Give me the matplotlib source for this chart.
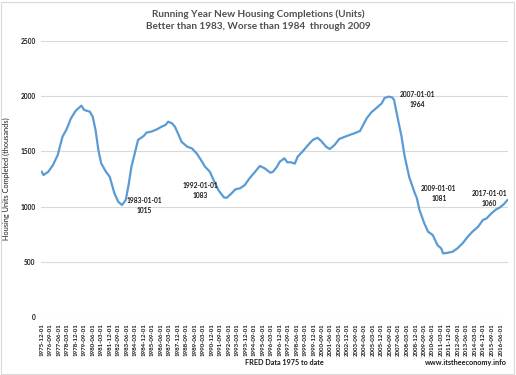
import pandas as pd
import matplotlib
matplotlib.use('Agg')
import matplotlib.pyplot as plt
from matplotlib.patches import Rectangle

plt.rcParams['font.family'] = ['Lato', 'DejaVu Sans']

# running-year completions (thousands)
months = ['1975-12', '1976-02', '1976-07', '1976-12', '1977-05', '1977-10', '1978-02', '1978-07',
          '1978-12', '1979-06', '1979-09', '1980-03', '1980-06', '1980-09', '1980-12', '1981-03',
          '1981-08', '1981-12', '1982-05', '1982-09', '1983-01', '1983-05', '1983-08', '1983-11',
          '1984-03', '1984-06', '1984-12', '1985-03', '1985-08', '1986-02', '1986-07', '1986-11',
          '1987-02', '1987-06', '1987-09', '1988-01', '1988-04', '1988-10', '1989-03', '1989-08',
          '1989-12', '1990-05', '1990-10', '1991-02', '1991-07', '1992-01', '1992-04', '1992-09',
          '1993-01', '1993-06', '1993-11', '1994-04', '1994-10', '1995-03', '1995-08', '1996-02',
          '1996-05', '1996-09', '1996-12', '1997-05', '1997-08', '1997-12', '1998-04', '1998-07',
          '1998-12', '1999-06', '1999-11', '2000-04', '2000-08', '2001-01', '2001-05', '2001-10',
          '2002-03', '2002-09', '2003-02', '2003-07', '2004-01', '2004-08', '2005-01', '2005-06',
          '2005-12', '2006-03', '2006-07', '2006-11', '2007-01', '2007-05', '2007-09', '2007-12',
          '2008-05', '2008-11', '2009-01', '2009-04', '2009-09', '2010-01', '2010-06', '2010-11',
          '2011-03', '2011-05', '2011-10', '2012-03', '2012-08', '2013-02', '2013-07', '2013-12',
          '2014-06', '2014-11', '2015-03', '2015-08', '2016-01', '2016-05', '2016-09', '2017-01']
units = [1316, 1286, 1316, 1377, 1467, 1632, 1693, 1798,
         1867, 1913, 1874, 1858, 1813, 1693, 1512, 1392,
         1316, 1271, 1121, 1045, 1015, 1060, 1196, 1361,
         1497, 1603, 1639, 1669, 1678, 1699, 1723, 1738,
         1768, 1753, 1723, 1648, 1587, 1542, 1527, 1482,
         1430, 1361, 1316, 1241, 1151, 1083, 1081, 1121,
         1157, 1166, 1196, 1256, 1316, 1368, 1347, 1307,
         1316, 1361, 1406, 1437, 1401, 1401, 1389, 1452,
         1497, 1557, 1603, 1623, 1593, 1542, 1521, 1557,
         1612, 1632, 1648, 1663, 1684, 1798, 1853, 1889,
         1934, 1982, 1994, 1988, 1964, 1798, 1632, 1467,
         1271, 1121, 1081, 970, 850, 774, 744, 653,
         623, 578, 584, 593, 623, 674, 728, 774,
         819, 879, 894, 939, 975, 993, 1021, 1060]

# labelled points
label_dates = ['1983-01-01', '1992-01-01', '2007-01-01', '2009-01-01', '2017-01-01']
label_values = [1015, 1083, 1964, 1081, 1060]
label_offsets = [(16, 0), (-17, 5), (17, 0), (16, 3), (-13, 1)]

dates = pd.to_datetime(months)
ticks = pd.date_range('1975-12-01', '2016-06-01', freq='9MS')

fig = plt.figure(figsize=(5.16, 3.75), dpi=100)
fig.patches.append(Rectangle((0.002, 0.004), 0.994, 0.99, transform=fig.transFigure,
                             fill=False, edgecolor='#D9D9D9', linewidth=0.8))
ax = fig.add_axes([0.0795, 0.1536, 0.905, 0.738])

ax.plot(dates, units, color='#5B9BD5', linewidth=1.6)

for d, v, off in zip(label_dates, label_values, label_offsets):
    ax.annotate(f'{d}\n{v}', xy=(pd.Timestamp(d), v), xytext=off, textcoords='offset points',
                ha='center', va='center', fontsize=4.8, fontweight='bold',
                linespacing=1.5, color='#1a1a1a')

ax.set_ylim(0, 2500)
ax.set_yticks(range(0, 2501, 500))
ax.set_xlim(pd.Timestamp('1975-11-10'), pd.Timestamp('2017-01-20'))
ax.set_xticks(ticks)
ax.set_xticklabels([t.strftime('%Y-%m-%d') for t in ticks], rotation=90,
                   fontsize=4.4, fontweight='bold')
for lbl in ax.get_yticklabels():
    lbl.set_fontsize(4.8)
    lbl.set_fontweight('bold')
ax.tick_params(length=0, pad=4, colors='#1a1a1a')
ax.grid(axis='y', color='#D9D9D9', linewidth=0.8)
ax.set_axisbelow(True)
for s in ax.spines.values():
    s.set_visible(False)

ax.set_ylabel('Housing Units Completed (thousands)', fontsize=5.3, color='#1a1a1a', labelpad=7)

fig.text(0.5, 0.963, 'Running Year New Housing Completions (Units)', ha='center', va='center',
         fontsize=7.2, fontweight='bold', color='#505050')
fig.text(0.5, 0.929, 'Better than 1983, Worse than 1984  through 2009', ha='center', va='center',
         fontsize=7.2, fontweight='bold', color='#505050')
fig.text(0.552, 0.034, 'FRED Data 1975 to date', ha='center', va='center',
         fontsize=5.2, fontweight='bold', color='#1a1a1a')
fig.text(0.903, 0.034, 'www.itstheeconomy.info', ha='center', va='center',
         fontsize=5.2, fontweight='bold', color='#1a1a1a')

fig.savefig('out.png', dpi=100)
